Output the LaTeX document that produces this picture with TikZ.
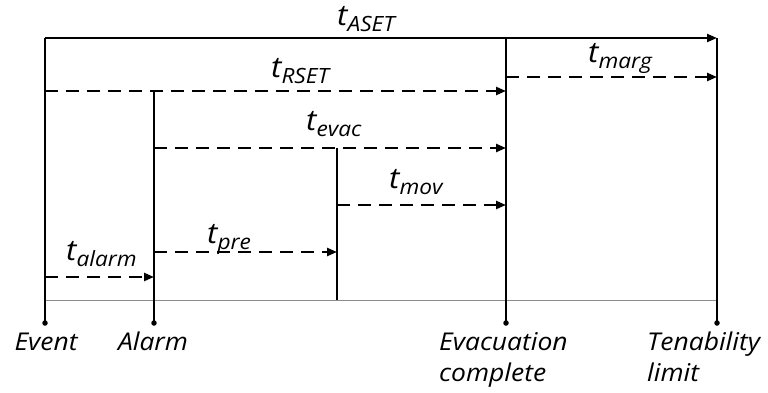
\documentclass[tikz,border=0pt]{standalone}
\usepackage{fontspec}
\setmainfont{Open Sans}[FakeStretch=1.08]
\usetikzlibrary{arrows.meta}
\tikzset{
  axisline/.style={line width=2.2pt, black},
  baseline/.style={line width=0.9pt, black!45},
  interval/.style={line width=2.4pt, dash pattern=on 13pt off 8pt, -{Triangle[length=10pt,width=8pt]}},
  solidint/.style={line width=2.2pt, -{Triangle[length=10pt,width=8pt]}},
  tlabel/.style={inner sep=0pt, anchor=base west, font=\fontsize{29}{29}\selectfont\itshape},
  evlabel/.style={inner sep=0pt, font=\fontsize{24.5}{31}\selectfont\itshape, align=left},
  enddot/.style={circle, fill=black, inner sep=0pt, minimum size=5.5pt}
}
\newcommand{\tsub}[1]{t\raisebox{-6pt}{\fontsize{21}{21}\selectfont #1}}
\begin{document}
\begin{tikzpicture}[x=1pt,y=-1pt]
\useasboundingbox (0,0) rectangle (768,392);
% time markers
\coordinate (evT) at (45,38);   \node[enddot] (evB) at (45,323) {};
\coordinate (alT) at (154,91);  \node[enddot] (alB) at (154,323) {};
\coordinate (ecT) at (506,38);  \node[enddot] (ecB) at (506,323) {};
\coordinate (tlT) at (717,38);  \node[enddot] (tlB) at (717,323) {};
\coordinate (prT) at (337,148); \coordinate (prB) at (337,300);
\coordinate (b0) at (45,300);   \coordinate (b1) at (717,300);
% baseline and verticals
\draw[baseline] (b0) -- (b1);
\draw[axisline] (evT) -- (evB.center);
\draw[axisline] (alT) -- (alB.center);
\draw[axisline] (ecT) -- (ecB.center);
\draw[axisline] (tlT) -- (tlB.center);
\draw[axisline] (prT) -- (prB);
% interval end points
\coordinate (aset0) at (45,38);  \coordinate (aset1) at (717,38);
\coordinate (rset0) at (45,91);  \coordinate (rset1) at (506,91);
\coordinate (marg0) at (506,77); \coordinate (marg1) at (717,77);
\coordinate (evac0) at (154,148);\coordinate (evac1) at (506,148);
\coordinate (mov0) at (337,205); \coordinate (mov1) at (506,205);
\coordinate (pre0) at (154,252); \coordinate (pre1) at (337,252);
\coordinate (alm0) at (45,277);  \coordinate (alm1) at (154,277);
% intervals
\draw[solidint] (aset0) -- (aset1);
\draw[interval] (rset0) -- (rset1);
\draw[interval] (marg0) -- (marg1);
\draw[interval] (evac0) -- (evac1);
\draw[interval] (mov0) -- (mov1);
\draw[interval] (pre0) -- (pre1);
\draw[interval] (alm0) -- (alm1);
% interval labels (t baseline, left edge)
\node[tlabel] (lASET) at (337,25) {\tsub{ASET}};
\node[tlabel] (lRSET) at (271,77) {\tsub{RSET}};
\node[tlabel] (lmarg) at (588,62) {\tsub{marg}};
\node[tlabel] (levac) at (306,130) {\tsub{evac}};
\node[tlabel] (lmov)  at (389,188) {\tsub{mov}};
\node[tlabel] (lpre)  at (207,243) {\tsub{pre}};
\node[tlabel] (lalm)  at (66,260) {\tsub{alarm}};
% event labels
\node[evlabel, anchor=base] (nEv) at (46,350) {Event};
\node[evlabel, anchor=base] (nAl) at (153,350) {Alarm};
\node[evlabel, anchor=base west] (nEc) at (439,381) {Evacuation\\complete};
\node[evlabel, anchor=base west] (nTl) at (647,381) {Tenability\\limit};
\end{tikzpicture}
\end{document}
